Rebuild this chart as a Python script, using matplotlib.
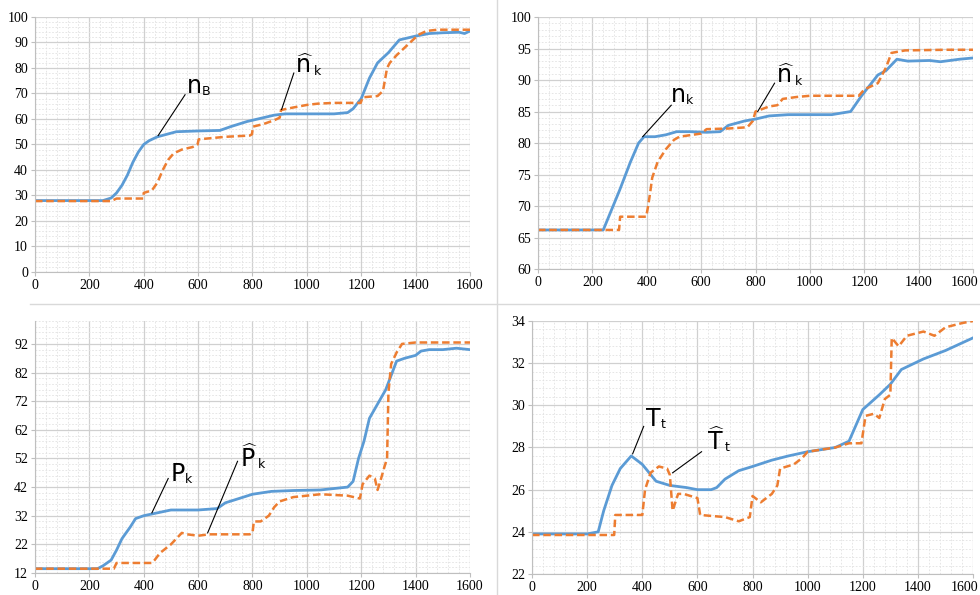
import matplotlib
matplotlib.use("Agg")
import matplotlib.pyplot as plt
import matplotlib.transforms as mtransforms
from matplotlib.lines import Line2D
from matplotlib.ticker import MultipleLocator, AutoMinorLocator

plt.rcParams['font.family'] = 'Liberation Serif'
plt.rcParams['mathtext.fontset'] = 'dejavusans'

BLUE = '#5b9bd5'
ORANGE = '#ed7d31'

x_ticks = list(range(0, 1601, 200))

# panel 1: n_B and n_k hat
p1_bx = [0, 150, 250, 280, 300, 320, 340, 360, 380, 400, 420, 450, 520, 600, 680, 720, 780, 820,
         880, 920, 1000, 1100, 1150, 1170, 1200, 1230, 1260, 1300, 1340, 1400, 1450, 1500, 1560, 1580, 1600]
p1_by = [28, 28, 28, 29, 31, 34, 38, 43, 47, 50, 51.5, 53, 55, 55.3, 55.5, 57, 59, 60,
         61.5, 62, 62, 62, 62.5, 64, 68, 76, 82, 86, 91, 92.5, 93.5, 93.8, 94, 93.5, 94.5]
p1_ox = [0, 280, 300, 398, 400, 430, 450, 470, 490, 510, 540, 580, 598, 602, 650, 700, 790, 798, 802,
         840, 880, 900, 905, 950, 1000, 1040, 1100, 1198, 1205, 1260, 1280, 1295, 1305, 1330, 1370,
         1400, 1410, 1440, 1480, 1600]
p1_oy = [27.8, 27.8, 28.8, 28.8, 31, 32, 35, 40, 44, 46.5, 48, 49, 50, 52, 52.5, 53, 53.5, 54, 57,
         58, 59.5, 60.5, 63.5, 64.5, 65.5, 66, 66.3, 66.3, 68.5, 69, 71, 80, 82, 85, 89,
         92, 93, 94.5, 95, 95]

# panel 2: n_k and n_k hat
p2_bx = [0, 240, 300, 340, 370, 390, 430, 470, 510, 560, 620, 670, 700, 760, 800, 850, 920, 1000,
         1080, 1150, 1190, 1250, 1280, 1320, 1360, 1440, 1480, 1550, 1600]
p2_by = [66.2, 66.2, 72.5, 77, 80, 81, 81, 81.3, 81.8, 81.8, 81.7, 81.8, 82.8, 83.5, 83.8, 84.3, 84.5, 84.5,
         84.5, 85, 87.5, 90.8, 91.5, 93.3, 93.0, 93.1, 92.9, 93.3, 93.5]
p2_ox = [0, 298, 302, 398, 405, 412, 420, 440, 470, 500, 520, 600, 620, 700, 770, 790, 800, 850,
         880, 900, 950, 1000, 1100, 1180, 1200, 1250, 1280, 1300, 1350, 1500, 1600]
p2_oy = [66.2, 66.2, 68.3, 68.3, 70, 72, 74.5, 77, 79, 80.5, 81, 81.5, 82.2, 82.3, 82.5, 83.5, 85, 85.8,
         86, 87, 87.3, 87.5, 87.5, 87.5, 88.5, 89.5, 92, 94.3, 94.7, 94.8, 94.8]

# panel 3: P_k and P_k hat
p3_bx = [0, 230, 250, 280, 300, 320, 350, 370, 400, 450, 500, 600, 670, 700, 750, 800, 870, 950, 1050,
         1150, 1170, 1190, 1210, 1230, 1260, 1290, 1310, 1330, 1360, 1400, 1420, 1450, 1500, 1550, 1600]
p3_by = [13.5, 13.5, 14.5, 16.5, 20, 24, 28, 31, 32, 33, 34, 34, 34.5, 36.5, 38, 39.5, 40.5, 40.8, 41,
         42, 44, 52, 58, 66, 71, 76, 81, 86, 87, 88, 89.5, 90, 90, 90.5, 90]
p3_ox = [0, 290, 300, 430, 440, 460, 500, 520, 540, 560, 600, 640, 790, 800, 805, 830, 860, 880, 900,
         950, 1000, 1050, 1150, 1195, 1205, 1230, 1250, 1260, 1270, 1285, 1295, 1300, 1310, 1330, 1350,
         1400, 1600]
p3_oy = [13.5, 13.5, 15.5, 15.5, 16.5, 19, 22, 24, 26, 25.5, 25, 25.5, 25.5, 26, 30, 30, 32, 35, 37,
         38.5, 39, 39.5, 39, 38, 43, 46, 45, 41, 44, 49, 52, 75, 85, 89, 92,
         92.5, 92.5]

# panel 4: T_t and T_t hat
p4_bx = [0, 200, 240, 260, 290, 320, 360, 400, 450, 500, 560, 600, 650, 670, 700, 750, 800, 870, 930,
         1000, 1100, 1150, 1200, 1260, 1300, 1340, 1420, 1500, 1600]
p4_by = [23.9, 23.9, 24.0, 25.0, 26.2, 27.0, 27.6, 27.2, 26.4, 26.2, 26.1, 26.0, 26.0, 26.1, 26.5, 26.9,
         27.1, 27.4, 27.6, 27.8, 28.0, 28.3, 29.8, 30.5, 31.0, 31.7, 32.2, 32.6, 33.2]
p4_ox = [0, 298, 302, 400, 410, 430, 460, 490, 500, 510, 530, 550, 600, 610, 700, 750, 790, 800, 830,
         870, 890, 900, 950, 980, 1000, 1100, 1150, 1195, 1210, 1240, 1260, 1280, 1300, 1305, 1330,
         1360, 1420, 1460, 1500, 1560, 1600]
p4_oy = [23.85, 23.85, 24.8, 24.8, 26.0, 26.8, 27.1, 27.0, 26.7, 25.0, 25.8, 25.8, 25.6, 24.8, 24.7,
         24.5, 24.7, 25.7, 25.4, 25.8, 26.2, 27.0, 27.2, 27.5, 27.8, 28.0, 28.2, 28.2, 29.5, 29.6,
         29.4, 30.3, 30.5, 33.2, 32.8, 33.3, 33.5, 33.3, 33.7, 33.9, 34.0]

fig = plt.figure(figsize=(9.8, 5.95), dpi=100)


def make_axes(rect, ylim, yticks):
    ax = fig.add_axes(rect)
    ax.set_xlim(0, 1600)
    ax.set_ylim(*ylim)
    ax.set_xticks(x_ticks)
    ax.set_yticks(yticks)
    step = yticks[1] - yticks[0]
    ax.xaxis.set_minor_locator(AutoMinorLocator(5))
    ax.yaxis.set_minor_locator(MultipleLocator(step / 5))
    ax.grid(which='major', color='#d0d0d0', linewidth=0.9)
    ax.grid(which='minor', color='#e2e2e2', linewidth=0.6, linestyle=(0, (2, 2)))
    ax.set_axisbelow(True)
    for s in ['top', 'right']:
        ax.spines[s].set_visible(False)
    for s in ['left', 'bottom']:
        ax.spines[s].set_color('#bfbfbf')
    ax.tick_params(which='major', length=3, color='#bfbfbf', labelsize=10, pad=2)
    ax.tick_params(which='minor', length=0)
    return ax


def label(ax, x, y, base, sub, hat=False, line=None):
    if hat:
        base = r'$\widehat{\mathsf{%s}}$' % base
    t = ax.text(x, y, base, fontsize=17, family='DejaVu Sans', va='baseline', ha='left')
    ax.annotate(sub, xy=(1, 0.02), xycoords=t, fontsize=9, family='DejaVu Sans',
                va='bottom', ha='left')
    if line is not None:
        ax.plot(line[0], line[1], color='black', linewidth=0.8)


ax1 = make_axes([0.0357, 0.5429, 0.4439, 0.4286], (0, 100), list(range(0, 101, 10)))
ax1.plot(p1_bx, p1_by, color=BLUE, linewidth=2)
ax1.plot(p1_ox, p1_oy, color=ORANGE, linewidth=1.8, linestyle=(0, (3, 1.5)))
label(ax1, 560, 70, 'n', 'B', line=([453, 552], [53.5, 69.5]))
label(ax1, 958, 78, 'n', 'k', hat=True, line=([907, 952], [63.7, 78]))

ax2 = make_axes([0.549, 0.5479, 0.4439, 0.4235], (60, 100), list(range(60, 101, 5)))
ax2.plot(p2_bx, p2_by, color=BLUE, linewidth=2)
ax2.plot(p2_ox, p2_oy, color=ORANGE, linewidth=1.8, linestyle=(0, (3, 1.5)))
label(ax2, 490, 86.5, 'n', 'k', line=([385, 490], [81, 86]))
label(ax2, 875, 89.5, 'n', 'k', hat=True, line=([808, 870], [85, 89.5]))

ax3 = make_axes([0.0357, 0.037, 0.4439, 0.4235], (12, 100), list(range(12, 93, 10)))
ax3.plot(p3_bx, p3_by, color=BLUE, linewidth=2)
ax3.plot(p3_ox, p3_oy, color=ORANGE, linewidth=1.8, linestyle=(0, (3, 1.5)))
label(ax3, 500, 44, 'P', 'k', line=([430, 490], [33, 45]))
label(ax3, 755, 49, 'P', 'k', hat=True, line=([635, 745], [26, 51]))

ax4 = make_axes([0.5429, 0.0353, 0.45, 0.4252], (22, 34), list(range(22, 35, 2)))
ax4.plot(p4_bx, p4_by, color=BLUE, linewidth=2)
ax4.plot(p4_ox, p4_oy, color=ORANGE, linewidth=1.8, linestyle=(0, (3, 1.5)))
label(ax4, 415, 29.0, 'T', 't', line=([365, 405], [27.7, 29.0]))
label(ax4, 635, 27.9, 'T', 't', hat=True, line=([510, 615], [26.8, 27.8]))

# the right panels' last x label sits a little left so it stays inside the picture
fig.canvas.draw()
for ax in [ax2, ax4]:
    lab = ax.xaxis.get_major_ticks()[-1].label1
    lab.set_transform(lab.get_transform() +
                      mtransforms.ScaledTranslation(-8 / 100, 0, fig.dpi_scale_trans))

# separators between panels
fig.add_artist(Line2D([497 / 980, 497 / 980], [0, 1], color='#d9d9d9', linewidth=1))
fig.add_artist(Line2D([30 / 980, 1], [1 - 304 / 595, 1 - 304 / 595], color='#d9d9d9', linewidth=1))

fig.savefig('out.png', dpi=100)
